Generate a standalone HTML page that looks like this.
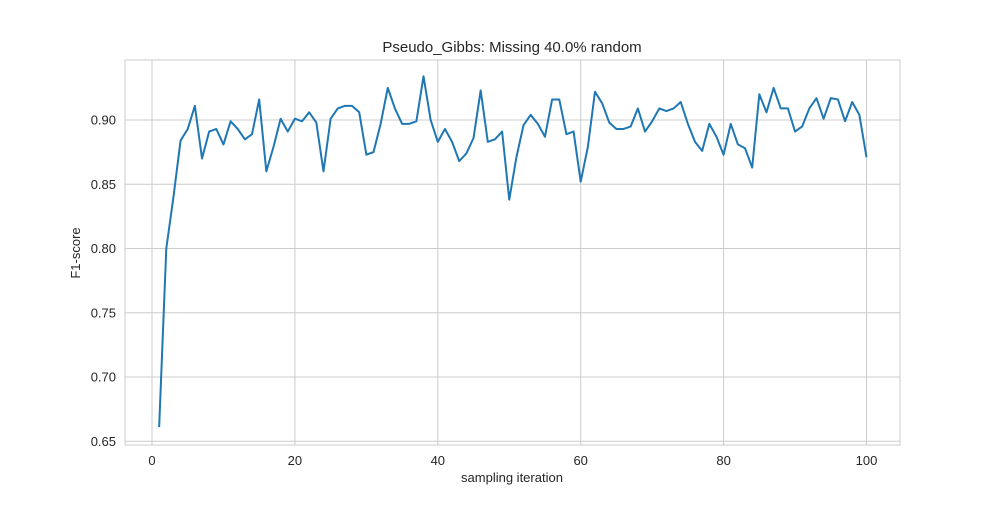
<!DOCTYPE html>
<html><head><meta charset="utf-8"><style>
body{margin:0;background:#fff;font-family:"Liberation Sans",sans-serif}
</style></head><body>
<svg width="1000" height="500" viewBox="0 0 1000 500">
<rect x="125" y="60" width="775" height="385" fill="#fff" stroke="#ccc" stroke-width="1"/>
<g id="grid"></g>
<g id="ticks" font-size="13" fill="#262626"></g>
<polyline id="line" fill="none" stroke="#1f77b4" stroke-width="2" stroke-linejoin="round"/>
<text x="512" y="52" text-anchor="middle" font-size="15" fill="#262626">Pseudo_Gibbs: Missing 40.0% random</text>
<text x="512" y="482" text-anchor="middle" font-size="13" fill="#262626">sampling iteration</text>
<text transform="translate(80,253) rotate(-90)" text-anchor="middle" font-size="13" fill="#262626">F1-score</text>
</svg>
<script>
const xTicks=[0,20,40,60,80,100];
const yTicks=[0.65,0.70,0.75,0.80,0.85,0.90];
const yTickLabels=["0.65","0.70","0.75","0.80","0.85","0.90"];
const f1Values=[0.661,0.800,0.840,0.884,0.893,0.911,0.870,0.891,0.893,0.881,0.899,0.893,0.885,0.889,0.916,0.860,0.879,0.901,0.891,0.901,0.899,0.906,0.898,0.860,0.901,0.909,0.911,0.911,0.906,0.873,0.875,0.897,0.925,0.909,0.897,0.897,0.899,0.934,0.900,0.883,0.893,0.883,0.868,0.874,0.886,0.923,0.883,0.885,0.891,0.838,0.871,0.896,0.904,0.897,0.887,0.916,0.916,0.889,0.891,0.852,0.879,0.922,0.913,0.898,0.893,0.893,0.895,0.909,0.891,0.899,0.909,0.907,0.909,0.914,0.897,0.883,0.876,0.897,0.887,0.873,0.897,0.881,0.878,0.863,0.920,0.906,0.925,0.909,0.909,0.891,0.895,0.909,0.917,0.901,0.917,0.916,0.899,0.914,0.904,0.871];
const NS="http://www.w3.org/2000/svg";
function xs(v){return 152+(v/100)*714.5;}
function ys(v){return 120-(v-0.9)*1285;}
const grid=document.getElementById('grid'),ticks=document.getElementById('ticks');
xTicks.forEach(t=>{
 const l=document.createElementNS(NS,'line');
 
 
 l.setAttribute('x1',xs(t));l.setAttribute('x2',xs(t));l.setAttribute('y1',60);l.setAttribute('y2',445);l.setAttribute('stroke','#ccc');
 grid.appendChild(l);
 const tx=document.createElementNS(NS,'text');
 
 
 tx.setAttribute('x',xs(t));tx.setAttribute('y',465);tx.setAttribute('text-anchor','middle');tx.textContent=t;
 ticks.appendChild(tx);
});
yTicks.forEach((t,i)=>{
 const l=document.createElementNS(NS,'line');
 
 
 l.setAttribute('x1',125);l.setAttribute('x2',900);l.setAttribute('y1',ys(t));l.setAttribute('y2',ys(t));l.setAttribute('stroke','#ccc');
 grid.appendChild(l);
 const tx=document.createElementNS(NS,'text');
 
 
 tx.setAttribute('x',116);tx.setAttribute('y',ys(t)+4.5);tx.setAttribute('text-anchor','end');tx.textContent=yTickLabels[i];
 ticks.appendChild(tx);
});
document.getElementById('line').setAttribute('points',f1Values.map((v,i)=>xs(i+1)+','+ys(v)).join(' '));
</script>
</body></html>
